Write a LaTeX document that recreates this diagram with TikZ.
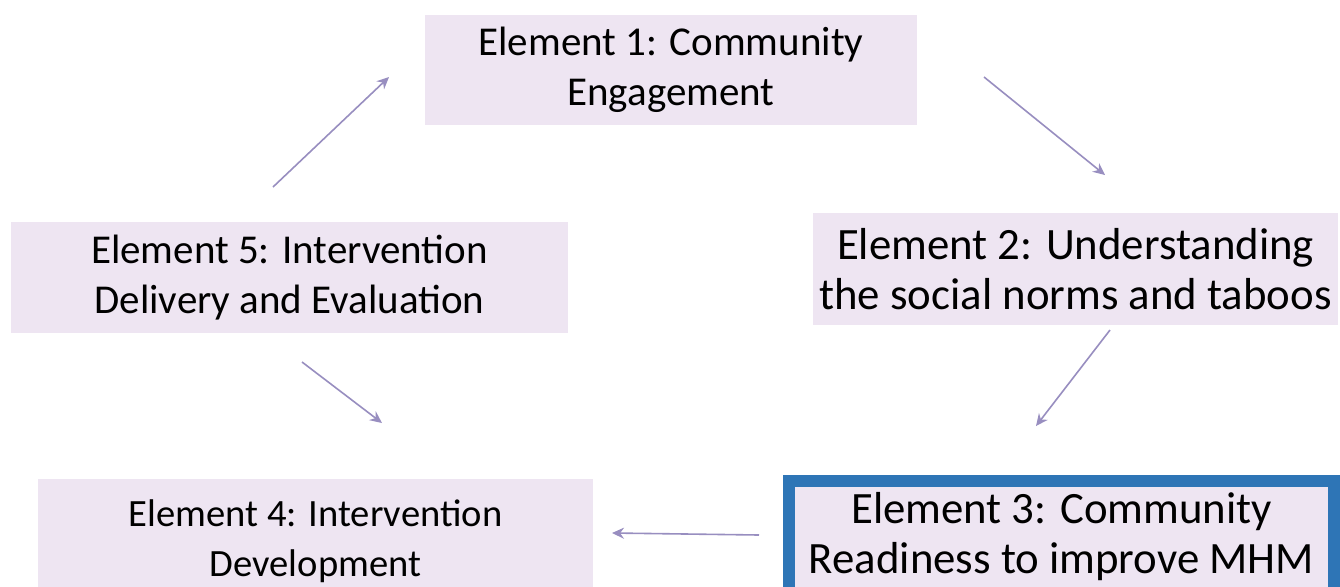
\documentclass[tikz,border=0pt]{standalone}
\usepackage{fontspec}
\setmainfont{Carlito}
\usetikzlibrary{arrows.meta}
\definecolor{boxfill}{RGB}{238,229,242}
\definecolor{arrowc}{RGB}{152,142,192}
\definecolor{bblue}{RGB}{46,117,182}
\begin{document}
\begin{tikzpicture}[x=0.5pt,y=-0.5pt,
  box/.style={fill=boxfill, draw=none, inner sep=0pt, align=center,
    font=\fontsize{20.5}{25}\selectfont},
  bigtext/.style={font=\fontsize{22.4}{25}\selectfont},
  smalltext/.style={font=\fontsize{19.3}{25}\selectfont},
  conn/.style={draw=arrowc, line width=0.8pt, -{Stealth[length=6pt,width=5.5pt]}}]
\useasboundingbox (0,0) rectangle (1340,586);
\clip (0,0) rectangle (1340,586);
\fill[white] (0,0) rectangle (1340,586);
% boxes
\node[box, minimum width=246pt, minimum height=55pt] (e1) at (671,70)
  {Element 1: Community\\Engagement};
\node[box, bigtext, minimum width=262.5pt, minimum height=56pt] (e2) at (1075.5,269)
  {Element 2: Understanding\\the social norms and taboos};
\node[box, minimum width=278.5pt, minimum height=55.5pt] (e5) at (289.5,277.5)
  {Element 5: Intervention\\Delivery and Evaluation};
\node[box, smalltext, minimum width=277.5pt, minimum height=62pt] (e4) at (315.5,541)
  {Element 4: Intervention\\Development};
\node[box, bigtext, draw=bblue, line width=6pt, minimum width=272.5pt, minimum height=56pt] (e3) at (1061.5,537)
  {Element 3: Community\\Readiness to improve MHM};
% connector end points
\coordinate (a5s) at (273,187);
\coordinate (a5e) at (389,77);
\coordinate (a1s) at (984,77);
\coordinate (a1e) at (1105,175);
\coordinate (a2s) at (1110,330);
\coordinate (a2e) at (1036,426);
\coordinate (a3s) at (759,535);
\coordinate (a3e) at (612,533);
\coordinate (a4s) at (302,362);
\coordinate (a4e) at (382,423);
\draw[conn] (a5s) -- (a5e);
\draw[conn] (a1s) -- (a1e);
\draw[conn] (a2s) -- (a2e);
\draw[conn] (a3s) -- (a3e);
\draw[conn] (a4s) -- (a4e);
\end{tikzpicture}
\end{document}
